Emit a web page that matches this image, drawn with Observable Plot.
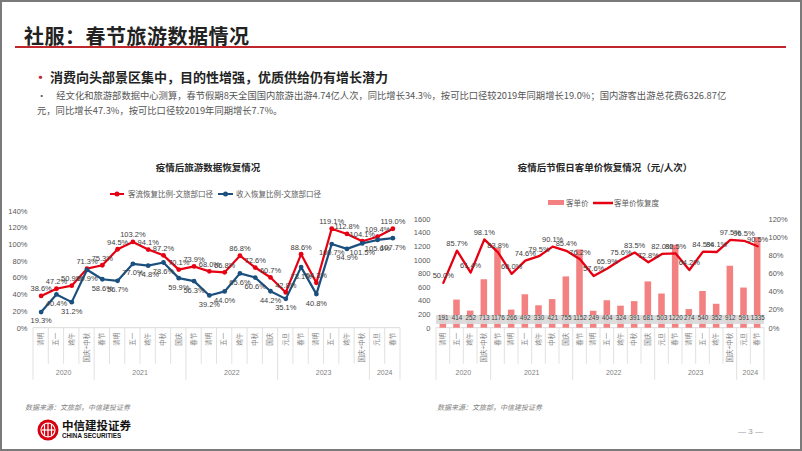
<!DOCTYPE html>
<html><head><meta charset="utf-8">
<script src="https://cdn.jsdelivr.net/npm/d3@7"></script>
<script src="https://cdn.jsdelivr.net/npm/@observablehq/plot@0.6"></script>
<style>
body{margin:0;width:802px;height:451px;overflow:hidden;background:#fff;font-family:"Noto Sans CJK SC","Liberation Sans",sans-serif;position:relative;}
.abs{position:absolute;white-space:nowrap;}
#frame{position:absolute;left:0;top:0;width:802px;height:451px;box-sizing:border-box;border:2px solid #7a7a7a;pointer-events:none;}
.ctitle{font-size:9.5px;font-weight:700;color:#262626;transform:translateX(-50%);}
.leg{font-size:7.5px;color:#595959;}
.src{font-size:7px;color:#7f7f7f;font-style:italic;}
</style></head>
<body>
<div class="abs" style="left:24px;top:21px;font-size:20px;font-weight:700;color:#222;letter-spacing:0.5px;">社服：春节旅游数据情况</div>
<div class="abs" style="left:15px;top:46px;width:771px;height:2px;background:#C0272D;"></div>
<div class="abs" style="left:34px;top:67px;font-size:13px;font-weight:700;color:#222;"><span style="color:#C0272D;">•</span> 消费向头部景区集中，目的性增强，优质供给仍有增长潜力</div>
<div class="abs" style="left:37px;top:88px;font-size:9.3px;color:#555;"><span>•</span><span style="margin-left:10px;">经文化和旅游部数据中心测算，春节假期8天全国国内旅游出游4.74亿人次，同比增长34.3%，按可比口径较2019年同期增长19.0%；国内游客出游总花费6326.87亿</span></div>
<div class="abs" style="left:37px;top:103px;font-size:9.3px;color:#555;">元，同比增长47.3%，按可比口径较2019年同期增长7.7%。</div>

<div class="abs ctitle" style="left:208px;top:160px;">疫情后旅游数据恢复情况</div>
<div class="abs ctitle" style="left:605px;top:160px;">疫情后节假日客单价恢复情况（元/人次）</div>

<svg class="abs" style="left:108px;top:190px;" width="20" height="8"><line x1="2" x2="16" y1="4" y2="4" stroke="#E60012" stroke-width="2"/><circle cx="9" cy="4" r="2.5" fill="#E60012"/></svg>
<div class="abs leg" style="left:128px;top:188px;">客流恢复比例-文旅部口径</div>
<svg class="abs" style="left:216px;top:190px;" width="20" height="8"><line x1="2" x2="17" y1="4" y2="4" stroke="#1B4F7E" stroke-width="2"/><circle cx="9.5" cy="4" r="2.5" fill="#1B4F7E"/></svg>
<div class="abs leg" style="left:236px;top:188px;">收入恢复比例-文旅部口径</div>

<svg class="abs" style="left:548px;top:199px;" width="17" height="8"><rect x="0" y="1" width="16" height="5" fill="#F38181"/></svg>
<div class="abs leg" style="left:566px;top:197px;">客单价</div>
<svg class="abs" style="left:592px;top:199px;" width="22" height="8"><line x1="1" x2="21" y1="4" y2="4" stroke="#E60012" stroke-width="2.5"/></svg>
<div class="abs leg" style="left:614px;top:197px;">客单价恢复度</div>

<div id="left" class="abs" style="left:0;top:195px;"></div>
<div id="right" class="abs" style="left:400px;top:195px;"></div>

<div class="abs src" style="left:25px;top:402px;">数据来源：文旅部，中信建投证券</div>
<div class="abs src" style="left:437px;top:402px;">数据来源：文旅部，中信建投证券</div>

<svg class="abs" style="left:37px;top:419px;" width="22" height="22">
  <circle cx="11" cy="11" r="10.5" fill="#D7000F"/>
  <circle cx="11" cy="11" r="7" fill="none" stroke="#fff" stroke-width="1.2"/>
  <line x1="7.5" x2="7.5" y1="5" y2="17" stroke="#fff" stroke-width="1.2"/>
  <line x1="11" x2="11" y1="4" y2="18" stroke="#fff" stroke-width="1.2"/>
  <line x1="14.5" x2="14.5" y1="5" y2="17" stroke="#fff" stroke-width="1.2"/>
  <line x1="5" x2="17" y1="11" y2="11" stroke="#fff" stroke-width="1.2"/>
</svg>
<div class="abs" style="left:62px;top:417px;font-size:11.5px;font-weight:700;color:#111;">中信建投证券</div>
<div class="abs" style="left:62px;top:432px;font-size:6.3px;font-weight:700;color:#111;font-family:'Liberation Sans',sans-serif;">CHINA SECURITIES</div>
<div class="abs" style="left:738px;top:427px;font-size:8px;color:#999;font-family:'Liberation Sans',sans-serif;">— 3 —</div>
<div id="frame"></div>

<script>
// ---------- data ----------
const categoryLabels = ["清明","五一","端午","国庆+中秋","春节","清明","五一","端午","中秋","国庆","春节","清明","五一","端午","中秋","国庆","元旦","春节","清明","五一","端午","国庆+中秋","元旦","春节"];
const categoryYears = ["2020","2020","2020","2020","2021","2021","2021","2021","2021","2021","2022","2022","2022","2022","2022","2022","2023","2023","2023","2023","2023","2023","2024","2024"];
const visitorRecovery = [38.6,47.2,50.9,71.3,75.3,94.5,103.2,94.1,87.2,70.1,73.9,68.0,66.8,86.8,72.6,60.7,42.8,88.6,54.3,119.1,112.8,104.1,109.4,119.0];
const revenueRecovery = [19.3,40.4,31.2,69.9,58.6,56.7,77.0,74.8,78.6,59.9,56.3,39.2,44.0,65.6,60.6,44.2,35.1,73.1,40.8,100.7,94.9,101.5,105.6,107.7];
const perCapitaSpend = [191,414,252,713,1176,266,492,330,421,755,1152,249,404,324,391,681,503,1220,274,540,352,912,591,1335];
const spendRecovery = [50.0,85.7,61.4,98.1,83.8,60.0,74.6,79.5,90.1,85.4,76.2,57.6,65.9,75.6,83.5,72.8,82.0,82.5,64.2,84.5,84.1,97.5,96.5,90.5];
const leftPctTicks = [0,20,40,60,80,100,120,140];
const spendTicks = [0,200,400,600,800,1000,1200,1400,1600];
const rightPctTicks = [0,20,40,60,80,100,120];

const n = categoryLabels.length;
const idx = (d, i) => i;
const fmtPct = d => d.toFixed(1) + "%";
const RED = "#E60012", NAVY = "#1B4F7E", BAR = "#F38181", GRID = "#d9d9d9";

// multi-level category table under the plot, drawn from the x scale
function categoryTable(scales, dim) {
  const x = scales.x;
  const b = dim.height - dim.marginBottom;
  const g = d3.create("svg:g");
  g.append("line").attr("x1", x(-0.5)).attr("x2", x(n - 0.5)).attr("y1", b).attr("y2", b).attr("stroke", GRID);
  for (let i = 0; i <= n; i++) {
    const isYear = i === 0 || i === n || categoryYears[i] !== categoryYears[i - 1];
    g.append("line").attr("x1", x(i - 0.5)).attr("x2", x(i - 0.5))
      .attr("y1", b).attr("y2", b + (isYear ? 52 : 36)).attr("stroke", GRID).attr("stroke-width", 0.8);
  }
  categoryLabels.forEach((c, i) => {
    g.append("text").attr("transform", `translate(${x(i)},${b + 5}) rotate(-90)`)
      .attr("text-anchor", "end").attr("dy", "0.35em").attr("font-size", 6.5)
      .attr("fill", "#7f7f7f").text(c);
  });
  const groups = d3.groups(categoryYears.map((y, i) => ({y, i})), d => d.y);
  groups.forEach(([y, arr]) => {
    const mid = d3.mean(arr, d => d.i);
    g.append("text").attr("x", x(mid)).attr("y", b + 45).attr("text-anchor", "middle")
      .attr("dy", "0.35em").attr("font-size", 7).attr("fill", "#7f7f7f").text(y);
  });
  return g.node();
}

const baseStyle = {fontFamily: "'Liberation Sans','Noto Sans CJK SC',sans-serif", fontSize: "7.5px", color: "#595959", background: "transparent", overflow: "visible"};

// ---------- left chart ----------
const left = Plot.plot({
  width: 410, height: 200,
  marginLeft: 33, marginRight: 10, marginTop: 15.7, marginBottom: 67.3,
  style: baseStyle,
  x: {domain: [-0.5, n - 0.5], axis: null},
  y: {domain: [0, 140]},
  marks: [
    Plot.axisY(leftPctTicks, {tickSize: 0, tickPadding: 6, tickFormat: d => d + "%", label: null, fontSize: 7.5, fill: "#595959"}),
    (index, scales, values, dim) => categoryTable(scales, dim),
    Plot.line(visitorRecovery, {x: idx, y: d => d, stroke: RED, strokeWidth: 2.2}),
    Plot.dot(visitorRecovery, {x: idx, y: d => d, fill: RED, r: 2.4}),
    Plot.line(revenueRecovery, {x: idx, y: d => d, stroke: NAVY, strokeWidth: 2.2}),
    Plot.dot(revenueRecovery, {x: idx, y: d => d, fill: NAVY, r: 2.4}),
    Plot.text(visitorRecovery, {x: idx, y: d => d, text: fmtPct, dy: -7, fontSize: 7.5, fill: "#404040"}),
    Plot.text(revenueRecovery, {x: idx, y: d => d, text: fmtPct, dy: 9, fontSize: 7.5, fill: "#404040"})
  ]
});
document.getElementById("left").appendChild(left);

// ---------- right chart ----------
const toSpend = p => p * 1600 / 120;
const right = Plot.plot({
  width: 402, height: 200,
  marginLeft: 36, marginRight: 38, marginTop: 24, marginBottom: 67.3,
  style: baseStyle,
  x: {domain: [-0.5, n - 0.5], axis: null},
  y: {domain: [0, 1600]},
  marks: [
    Plot.axisY(spendTicks, {tickSize: 0, tickPadding: 6, label: null, tickFormat: d => String(d), fontSize: 7.5, fill: "#595959"}),
    Plot.axisY(rightPctTicks.map(toSpend), {anchor: "right", tickSize: 0, tickPadding: 4, label: null, tickFormat: v => Math.round(v * 120 / 1600) + "%", fontSize: 7.5, fill: "#595959"}),
    (index, scales, values, dim) => categoryTable(scales, dim),
    Plot.rectY(perCapitaSpend, {x1: (d, i) => i - 0.24, x2: (d, i) => i + 0.24, y: d => d, fill: BAR}),
    (index, scales, values, dim) => {
      const b = dim.height - dim.marginBottom;
      const r = document.createElementNS("http://www.w3.org/2000/svg", "rect");
      r.setAttribute("x", scales.x(-0.5)); r.setAttribute("width", scales.x(n - 0.5) - scales.x(-0.5));
      r.setAttribute("y", b - 12.7); r.setAttribute("height", 9);
      r.setAttribute("fill", "#d9d9d9"); r.setAttribute("fill-opacity", 0.92);
      return r;
    },
    Plot.text(perCapitaSpend, {x: idx, text: d => String(d), frameAnchor: "bottom", dy: -8.2, fontSize: 6.3, fill: "#404040"}),
    Plot.line(spendRecovery, {x: idx, y: d => toSpend(d), stroke: RED, strokeWidth: 2.3}),
    Plot.text(spendRecovery, {x: idx, y: d => toSpend(d), text: fmtPct, dy: -7, fontSize: 7.5, fill: "#404040"})
  ]
});
document.getElementById("right").appendChild(right);
</script>
</body></html>
